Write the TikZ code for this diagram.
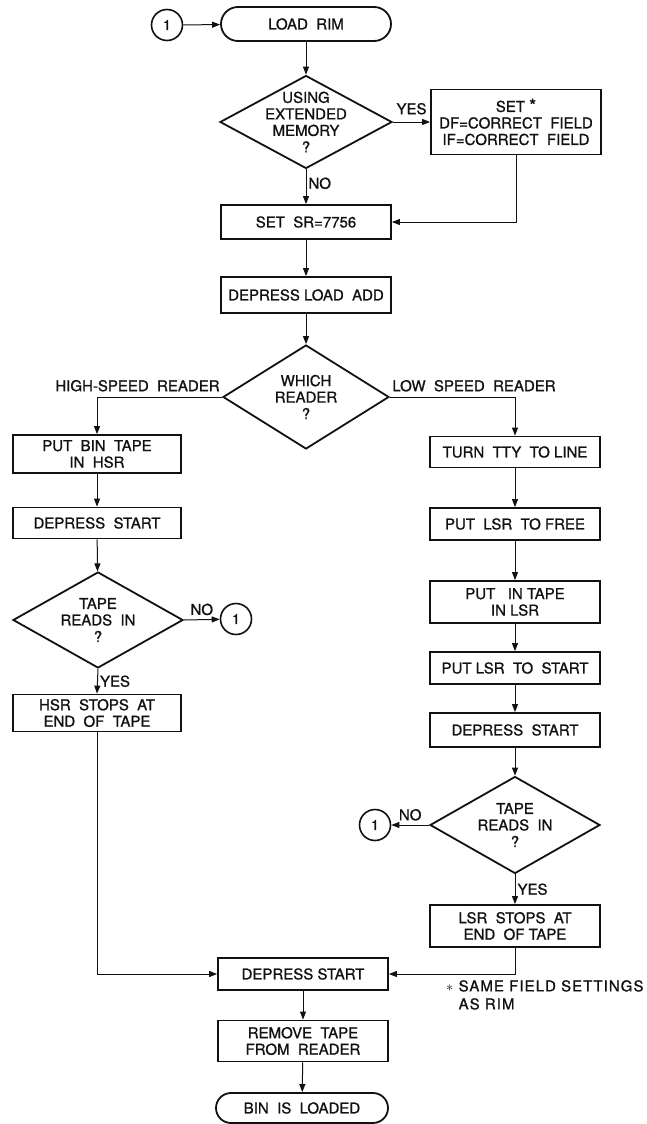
\documentclass[tikz,border=0pt]{standalone}
\usepackage{fontspec}
\usepackage{tikz}
\usetikzlibrary{arrows.meta,shapes.geometric}
\newfontfamily\chartfont[FakeBold=1]{TeX Gyre Heros}
\newfontfamily\notefont[FakeBold=1,LetterSpace=7]{TeX Gyre Heros}
\definecolor{ChartInk}{HTML}{111111}
\tikzset{
  >={Triangle[length=8pt,width=6pt]},
  procbox/.style={draw=ChartInk,line width=1.8pt,minimum width=170pt,minimum height=32pt,
    align=center,inner sep=0pt,text=ChartInk,font=\chartfont\fontsize{15}{16.5}\selectfont},
  termbox/.style={procbox,rounded corners=15pt},
  decisionbox/.style={diamond,draw=ChartInk,line width=1.8pt,inner sep=0pt,
    minimum width=170pt,minimum height=96pt},
  dtext/.style={align=center,inner sep=0pt,text=ChartInk,font=\chartfont\fontsize{15}{16.5}\selectfont},
  joinmark/.style={circle,draw=ChartInk,line width=1.6pt,minimum size=31pt,inner sep=0pt,
    text=ChartInk,font=\chartfont\fontsize{14}{14}\selectfont},
  flow/.style={->,draw=ChartInk,line width=1pt},
  tag/.style={inner sep=2pt,text=ChartInk,font=\chartfont\fontsize{15}{16.5}\selectfont},
  notetext/.style={align=left,inner sep=0pt,text=ChartInk,font=\notefont\fontsize{15}{18}\selectfont}
}

\begin{document}
\begin{tikzpicture}[x=1pt,y=-1pt]
  \useasboundingbox (0,0) rectangle (647,1124);

  % main column
  \node[joinmark] (entry) at (167,25) {1};
  \node[termbox,minimum height=34pt,rounded corners=17pt] (loadrim) at (306,24) {LOAD\ \ RIM};
  \node[decisionbox,minimum width=172pt,minimum height=93pt,
    label={[dtext]center:USING\\EXTENDED\\MEMORY\\?}] (extmem) at (306,122) {};
  \node[procbox,minimum height=65pt] (setfield) at (516,122) {SET {\fontsize{18}{16.5}\selectfont *}\\DF=CORRECT\ \ FIELD\\IF=CORRECT\ \ FIELD};
  \node[procbox,minimum height=34pt] (setsr) at (306,222) {SET\ \ SR=7756};
  \node[procbox,minimum height=36pt] (loadadd) at (306,295) {DEPRESS LOAD\ \ ADD};
  \node[decisionbox,minimum width=166pt,minimum height=104pt,
    label={[dtext]center:WHICH\\READER\\?}] (reader) at (306,397) {};

  % high-speed reader
  \node[procbox,minimum width=168pt,minimum height=38pt] (hsrload) at (97,454) {PUT\ \ BIN\ \ TAPE\\IN\ \ HSR};
  \node[procbox,minimum width=168pt,minimum height=31pt] (hsrstart) at (97,523) {DEPRESS\ \ START};
  \node[decisionbox,minimum height=96pt,
    label={[dtext]center:TAPE\\READS\ \ IN\\?}] (hsrread) at (98,620) {};
  \node[joinmark] (hsrback) at (236,619) {1};
  \node[procbox,minimum width=168pt,minimum height=37pt] (hsrstop) at (97,713) {HSR\ \ STOPS\ \ AT\\END\ \ OF\ \ TAPE};

  % low speed reader
  \node[procbox,minimum height=31pt] (ttyline) at (515,452) {TURN\ \ TTY\ \ TO\ LINE};
  \node[procbox] (lsrfree) at (515,524) {PUT\ \ LSR\ \ TO\ FREE};
  \node[procbox,minimum height=42pt] (lsrload) at (515,602) {PUT\ \ \ IN\ TAPE\\IN LSR};
  \node[procbox] (lsrstart) at (515,668) {PUT LSR\ \ TO\ \ START};
  \node[procbox,minimum height=34pt] (lsrpress) at (515,730) {DEPRESS\ \ START};
  \node[decisionbox,minimum height=97pt,
    label={[dtext]center:TAPE\\READS\ \ IN\\?}] (lsrread) at (515,825) {};
  \node[joinmark] (lsrback) at (375,825) {1};
  \node[procbox,minimum height=42pt] (lsrstop) at (515,926) {LSR\ \ STOPS\ \ AT\\END\ \ OF\ TAPE};

  % common end
  \node[procbox,minimum height=32pt] (endpress) at (303,974) {DEPRESS START};
  \node[procbox,minimum height=41pt] (unload) at (303,1041) {REMOVE\ \ TAPE\\FROM\ \ READER};
  \node[termbox,minimum width=172pt,minimum height=30pt] (loaded) at (302,1108) {BIN\ \ IS\ \ LOADED};
  \node[notetext,anchor=north west] (fieldnote) at (446,980) {$\ast$ SAME FIELD SETTINGS\\\hphantom{$\ast$ }AS RIM};

  \draw[flow] (entry) -- (loadrim);
  \draw[flow] (loadrim) -- (extmem);
  \draw[flow] (extmem.east) -- node[tag,above,yshift=5pt] (memyes) {YES} (setfield.west);
  \draw[flow] (extmem.south) -- node[tag,right,pos=0.4] (memno) {NO} (setsr.north);
  \draw[flow] (setfield.south) |- (setsr.east);
  \draw[flow] (setsr) -- (loadadd);
  \draw[flow] (loadadd) -- (reader);
  \draw[flow] (reader.west) -| node[tag,pos=0,anchor=south east,yshift=3pt] (highspeed) {HIGH-SPEED\ \ READER} (hsrload.north);
  \draw[flow] (reader.east) -| node[tag,pos=0,anchor=south west,yshift=3pt] (lowspeed) {LOW\ \ SPEED\ \ READER} (ttyline.north);

  \draw[flow] (hsrload) -- (hsrstart);
  \draw[flow] (hsrstart) -- (hsrread);
  \draw[flow] (hsrread.east) -- node[tag,above,yshift=2pt] (hsrno) {NO} (hsrback);
  \draw[flow] (hsrread.south) -- node[tag,right] (hsryes) {YES} (hsrstop.north);
  \draw[flow] (hsrstop.south) |- (endpress.west);

  \draw[flow] (ttyline) -- (lsrfree);
  \draw[flow] (lsrfree) -- (lsrload);
  \draw[flow] (lsrload) -- (lsrstart);
  \draw[flow] (lsrstart) -- (lsrpress);
  \draw[flow] (lsrpress) -- (lsrread);
  \draw[flow] (lsrread.west) -- node[tag,above,yshift=2pt] (lsrno) {NO} (lsrback);
  \draw[flow] (lsrread.south) -- node[tag,right] (lsryes) {YES} (lsrstop.north);
  \draw[flow] (lsrstop.south) |- (endpress.east);

  \draw[flow] (endpress) -- (unload);
  \draw[flow] (unload) -- (loaded);
\end{tikzpicture}
\end{document}
